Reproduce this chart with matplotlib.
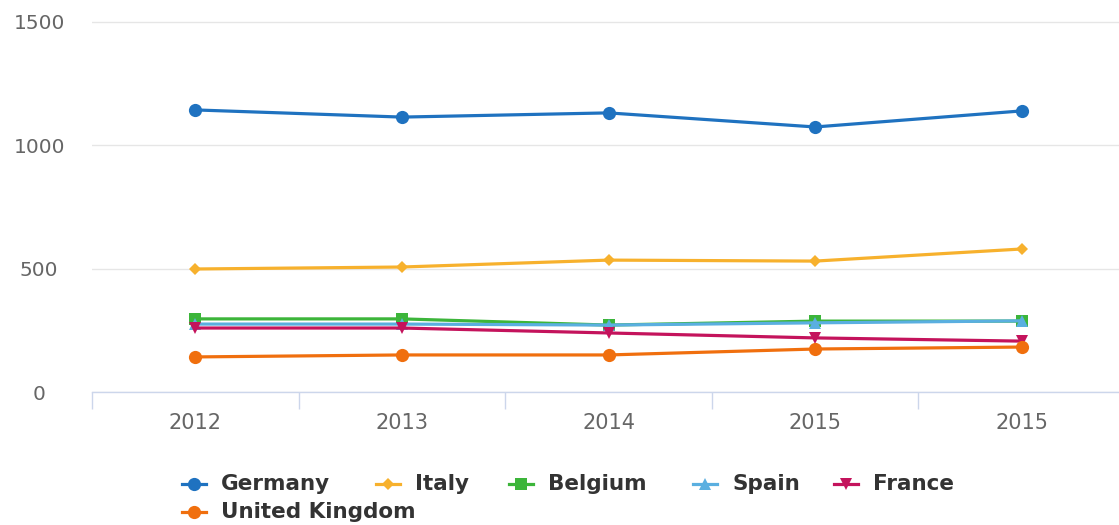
import matplotlib.pyplot as plt
from matplotlib.lines import Line2D

years = ["2012", "2013", "2014", "2015", "2015"]
y_ticks = [0, 500, 1000, 1500]

germany = [1142, 1113, 1130, 1073, 1138]
italy = [498, 506, 534, 530, 579]
belgium = [296, 296, 271, 287, 287]
spain = [275, 275, 271, 280, 288]
france = [259, 259, 239, 219, 206]
united_kingdom = [142, 150, 150, 174, 182]

series = [
    ("Germany", germany, "#1f72c0", "o", 9.5),
    ("Italy", italy, "#f7b12d", "D", 6.5),
    ("Belgium", belgium, "#3cb53a", "s", 9),
    ("Spain", spain, "#5aafe0", "^", 8.5),
    ("France", france, "#c4135c", "v", 8.5),
    ("United Kingdom", united_kingdom, "#f06f0e", "o", 9.5),
]

W, H = 1119, 525
fig = plt.figure(figsize=(W / 100, H / 100), dpi=100)

# plot area in pixels: x 92..1125, y 392 (zero) with 500 units = 123.5 px
x0, x1 = 92, 1125
y_zero = 392
px_per_unit = 123.5 / 500
y_top_val = 1520
y_top = y_zero - y_top_val * px_per_unit
ax = fig.add_axes([x0 / W, 1 - y_zero / H, (x1 - x0) / W, (y_zero - y_top) / H])

xs = list(range(len(years)))
for name, vals, color, marker, ms in series:
    ax.plot(xs, vals, color=color, lw=2.3, marker=marker, ms=ms,
            markeredgewidth=0, zorder=3)

ax.set_xlim(-0.5, len(years) - 0.5)
ax.set_ylim(0, y_top_val)

for s in ["top", "right", "left"]:
    ax.spines[s].set_visible(False)
ax.spines["bottom"].set_color("#ccd6eb")
ax.spines["bottom"].set_linewidth(1)

ax.set_yticks(y_ticks)
ax.set_yticklabels([str(v) for v in y_ticks])
ax.tick_params(axis="y", length=0, pad=38, labelsize=14.5, labelcolor="#666666")
for lbl in ax.get_yticklabels():
    lbl.set_horizontalalignment("center")
ax.yaxis.grid(True, color="#e6e6e6", lw=1)
ax.set_axisbelow(True)

ax.set_xticks(xs)
ax.set_xticklabels(years)
ax.set_xticks([x - 0.5 for x in range(len(years) + 1)], minor=True)
ax.tick_params(axis="x", which="major", length=0, pad=15, labelsize=15,
               labelcolor="#666666")
ax.tick_params(axis="x", which="minor", length=12, width=1, color="#ccd6eb")

# legend laid out like the chart's own: five entries, then a second row
legend_pos = [(194, 484), (388, 484), (521, 484), (705, 484), (846, 484), (194, 512)]
for (name, vals, color, marker, ms), (lx, ly) in zip(series, legend_pos):
    fy = 1 - ly / H
    fig.add_artist(Line2D([(lx - 12) / W, (lx + 12) / W], [fy, fy], color=color,
                          lw=2.3, marker=None, transform=fig.transFigure))
    fig.add_artist(Line2D([lx / W], [fy], color=color, marker=marker, ms=ms,
                          markeredgewidth=0, transform=fig.transFigure))
    fig.text((lx + 27) / W, fy, name, fontsize=15.5, fontweight="bold",
             color="#333333", va="center", ha="left")

fig.savefig("out.png", dpi=100)
